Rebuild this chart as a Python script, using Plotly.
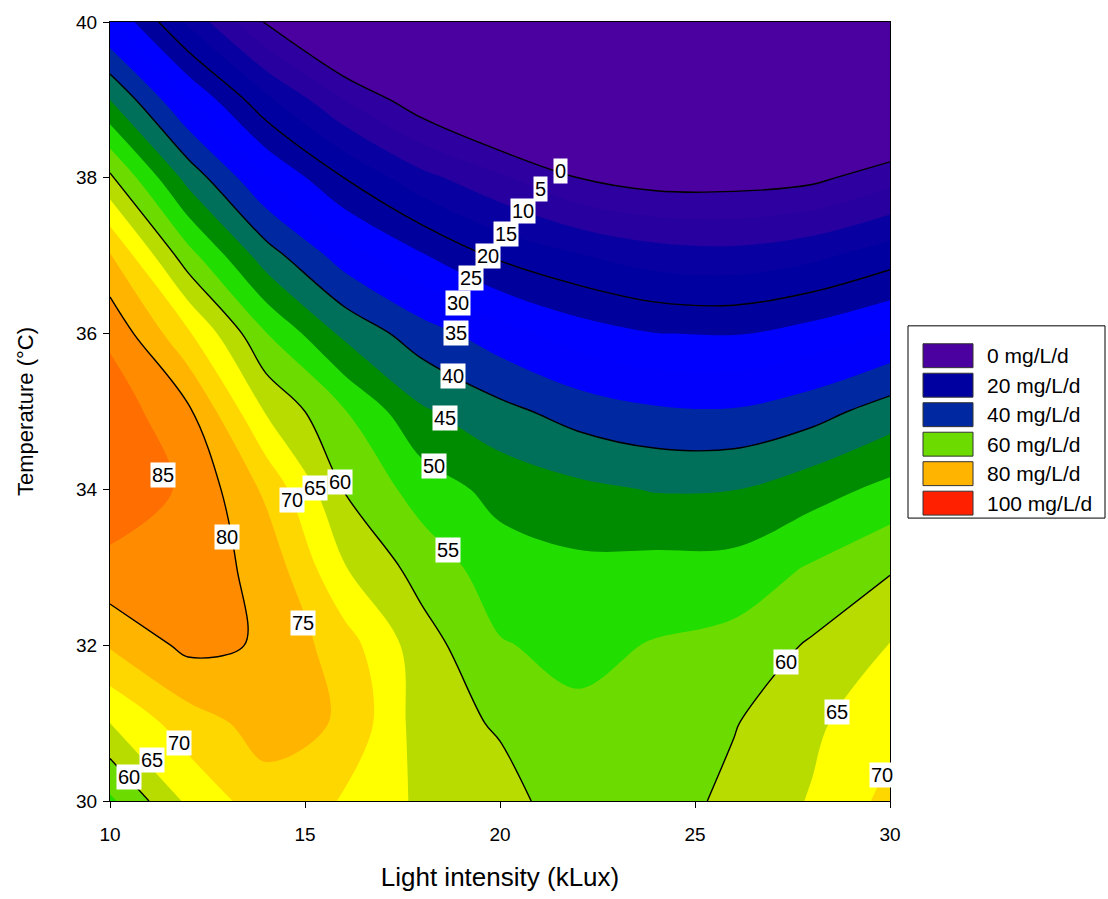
import numpy as np
import plotly.graph_objects as go

# Grid of the response surface: productivity (mg/L/d) vs light and temperature
light = [10, 12, 14, 16, 18, 20, 22, 24, 26, 28, 30]          # kLux
temperature = [30, 31, 32, 33, 34, 35, 36, 37, 38, 39, 40]    # degC
productivity = [
    [54.0, 66.0, 73.0, 69.7, 64.0, 62.0, 57.0, 57.5, 61.3, 65.4, 71.5],   # 30
    [65.0, 72.7, 77.0, 74.5, 62.5, 59.4, 56.1, 56.5, 59.7, 64.0, 68.6],   # 31
    [75.5, 81.3, 79.5, 72.3, 62.2, 55.35, 53.6, 55.35, 56.7, 60.6, 65.2], # 32
    [84.0, 82.5, 78.5, 65.3, 57.9, 52.4, 51.1, 51.5, 51.7, 55.5, 59.4],   # 33
    [87.5, 84.4, 74.0, 59.8, 52.8, 48.3, 46.2, 44.7, 44.9, 47.9, 51.4],   # 34
    [88.0, 81.0, 64.6, 55.4, 45.7, 41.5, 37.9, 35.8, 35.5, 38.0, 42.4],   # 35
    [84.0, 70.8, 55.2, 43.9, 37.3, 32.2, 27.6, 25.1, 24.7, 27.1, 30.5],   # 36
    [75.5, 57.0, 42.3, 32.7, 25.5, 19.0, 15.4, 12.5, 11.8, 13.8, 17.7],   # 37
    [61.0, 43.2, 30.3, 20.0, 11.6, 5.9, 0.0, -2.5, -2.5, -1.3, 3.1],      # 38
    [45.0, 30.0, 16.3, 5.1, -3.5, -11.0, -15.0, -18.0, -18.0, -17.0, -12.0],  # 39
    [30.0, 14.0, -0.5, -12.0, -20.0, -27.0, -33.0, -37.0, -37.0, -35.0, -30.0],  # 40
]

# Band palette: colour of the band just below each level (0 ... 100 step 5)
level_tops = list(range(0, 105, 5))
band_colors = [
    "#4B00A0", "#2E009F", "#2800A0", "#0800A0", "#0000A0", "#00009C",
    "#0000FF", "#0000FC", "#0028A0", "#00705A", "#008C00", "#22DD00",
    "#6CDC00", "#B8DC00", "#FFFF00", "#FFD700", "#FFB400", "#FF8C00",
    "#FF6E00", "#FF4800", "#FF2000",
]
legend_levels = [0, 20, 40, 60, 80, 100]

# Contour label placement: level, anchor point, search direction
label_levels = [0, 5, 10, 15, 20, 25, 30, 35, 40, 45, 50, 55,
                85, 80, 75, 70, 65, 60,
                70, 65, 60,
                60, 65, 70]
label_x = [21.54, 21.03, 20.59, 20.15, 19.69, 19.26, 18.92, 18.87, 18.79, 18.59, 18.31, 18.67,
           11.33, 12.95, 14.82, 14.56, 15.13, 15.72,
           11.56, 11.10, 10.64,
           26.85, 28.44, 29.77]
label_y = [38.04, 37.79, 37.50, 37.22, 36.94, 36.65, 36.33, 35.91, 35.45, 34.86, 34.08, 32.95,
           34.19, 33.39, 32.28, 33.86, 34.02, 34.10,
           30.75, 30.52, 30.31,
           31.78, 31.14, 30.33]
label_dir = ["v"] * 12 + ["h"] * 12

Z = np.array(productivity, dtype=float)
XS = np.array(light, dtype=float)
YS = np.array(temperature, dtype=float)


def surface(x, y):
    """Bilinear value of the gridded surface."""
    x = np.clip(x, XS[0], XS[-1])
    y = np.clip(y, YS[0], YS[-1])
    i = np.clip(np.searchsorted(XS, x) - 1, 0, len(XS) - 2)
    j = np.clip(np.searchsorted(YS, y) - 1, 0, len(YS) - 2)
    tx = (x - XS[i]) / (XS[i + 1] - XS[i])
    ty = (y - YS[j]) / (YS[j + 1] - YS[j])
    return ((1 - tx) * (1 - ty) * Z[j, i] + tx * (1 - ty) * Z[j, i + 1]
            + (1 - tx) * ty * Z[j + 1, i] + tx * ty * Z[j + 1, i + 1])


def place_on_level(level, x0, y0, direction):
    """Slide the anchor along one axis to where the surface equals the level."""
    t = np.linspace(-2.5, 2.5, 2001)
    if direction == "h":
        xs, ys = x0 + t, np.full_like(t, y0)
    else:
        xs, ys = np.full_like(t, x0), y0 + t
    ok = (xs >= XS[0]) & (xs <= XS[-1]) & (ys >= YS[0]) & (ys <= YS[-1])
    xs, ys, tt = xs[ok], ys[ok], t[ok]
    d = np.array([surface(a, b) for a, b in zip(xs, ys)]) - level
    idx = np.where(np.sign(d[:-1]) != np.sign(d[1:]))[0]
    if len(idx) == 0:
        return x0, y0
    k = idx[np.argmin(np.abs(tt[idx]))]
    return float(xs[k]), float(ys[k])


n_lev = len(level_tops) - 1
colorscale = [[k / n_lev, band_colors[k]] for k in range(n_lev + 1)]

fig = go.Figure()
fig.add_trace(go.Contour(
    x=light, y=temperature, z=productivity,
    contours=dict(start=level_tops[0], end=level_tops[-2], size=5,
                  coloring="fill", showlines=False),
    colorscale=colorscale, showscale=False,
    line=dict(width=0, smoothing=1.0), hoverinfo="skip",
))
fig.add_trace(go.Contour(
    x=light, y=temperature, z=productivity,
    contours=dict(start=0, end=80, size=20, coloring="none"),
    line=dict(color="black", width=1.4, smoothing=1.0),
    showscale=False, hoverinfo="skip",
))

font_family = "Arial, Liberation Sans, sans-serif"
annotations = []
for lev, x0, y0, dr in zip(label_levels, label_x, label_y, label_dir):
    lx, ly = place_on_level(lev, x0, y0, dr)
    annotations.append(dict(
        x=lx, y=ly, xref="x", yref="y", text=str(lev), showarrow=False,
        font=dict(family=font_family, size=20, color="black"),
        bgcolor="white", borderpad=1,
    ))

# Legend panel drawn in paper coordinates (plot area spans 780 x 782 px)
pw, ph = 780.0, 782.0
def px_to_paper(px, py):
    return (px - 110) / pw, (802 - py) / ph

shapes = []
bx0, by0 = px_to_paper(908, 325)
bx1, by1 = px_to_paper(1105, 518)
shapes.append(dict(type="rect", xref="paper", yref="paper",
                   x0=bx0, y0=by1, x1=bx1, y1=by0,
                   line=dict(color="black", width=1), fillcolor="white", layer="above"))
for n, lev in enumerate(legend_levels):
    top = 343 + n * 29.6
    rx0, ry0 = px_to_paper(923, top)
    rx1, ry1 = px_to_paper(973, top + 24)
    shapes.append(dict(type="rect", xref="paper", yref="paper",
                       x0=rx0, y0=ry1, x1=rx1, y1=ry0,
                       line=dict(color="#333333", width=1),
                       fillcolor=band_colors[level_tops.index(lev)], layer="above"))
    tx, ty = px_to_paper(985, top + 12)
    annotations.append(dict(
        x=tx, y=ty, xref="paper", yref="paper", text=f"{lev} mg/L/d",
        showarrow=False, xanchor="left", yanchor="middle",
        font=dict(family=font_family, size=21, color="black"),
    ))

axis_common = dict(
    showline=True, mirror=True, linecolor="black", linewidth=1,
    ticks="outside", ticklen=6, tickcolor="black", tickwidth=1,
    showgrid=False, zeroline=False,
    tickfont=dict(family=font_family, size=19, color="black"),
)

fig.update_layout(
    width=1108, height=899, autosize=False,
    margin=dict(l=110, r=218, t=20, b=97),
    paper_bgcolor="white", plot_bgcolor="white",
    xaxis=dict(range=[10, 30], tick0=10, dtick=5, ticklabelstandoff=10,
               title=dict(text="Light intensity (kLux)",
                          font=dict(family=font_family, size=26, color="black"),
                          standoff=24),
               **axis_common),
    yaxis=dict(range=[30, 40], tick0=30, dtick=2, ticklabelstandoff=2,
               title=dict(text="Temperature (°C)",
                          font=dict(family=font_family, size=22, color="black"),
                          standoff=36),
               **axis_common),
    shapes=shapes, annotations=annotations, showlegend=False,
)

fig.write_html("out.html")
